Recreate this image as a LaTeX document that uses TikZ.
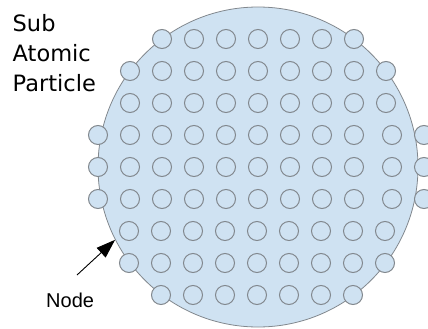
\documentclass[tikz,border=0pt]{standalone}
\usepackage{fontspec}
\setmainfont{DejaVu Sans}
\newfontfamily\arialfont{Liberation Sans}
\usetikzlibrary{arrows.meta}
\definecolor{fillblue}{RGB}{207,226,242}
\definecolor{edgegray}{RGB}{130,136,142}
\tikzset{
  body/.style={circle, draw=edgegray, fill=fillblue, line width=0.8pt, minimum size=320pt, inner sep=0pt},
  dot/.style={circle, draw=edgegray, fill=fillblue, line width=1pt, minimum size=19pt, inner sep=0pt},
  bigtext/.style={anchor=base west, inner sep=0pt, font=\fontsize{22.5}{29}\selectfont},
  smalltext/.style={anchor=base west, inner sep=0pt, font=\arialfont\fontsize{20}{24}\selectfont},
  pointer/.style={-{Triangle[length=19pt,width=13pt]}, line width=0.9pt, black}
}
\begin{document}
\begin{tikzpicture}[x=1pt,y=-1pt]
\useasboundingbox (0,0) rectangle (428,329);
\node[body] (big) at (258,167) {};
\foreach \r/\y/\xs in {
  1/39/{162,194,226,258,290,322,354},
  2/71/{130,162,194,226,258,290,322,354,386},
  3/103/{130,162,194,226,258,290,322,354,386},
  4/135/{98,130,162,194,226,258,290,322,354,392,424},
  5/167/{98,130,162,194,226,258,290,322,354,392,424},
  6/199/{98,130,162,194,226,258,290,322,354,392,424},
  7/231/{129,161,193,225,257,289,321,353,385},
  8/263/{129,161,193,225,257,289,321,353,385},
  9/295/{161,193,225,257,289,321,353}} {
  \foreach \x [count=\i] in \xs {
    \node[dot] (c-\r-\i) at (\x,\y) {};
  }
}
\node[bigtext] (t1) at (12.5,32) {Sub};
\node[bigtext] (t2) at (12.5,62) {Atomic};
\node[bigtext] (t3) at (12.5,91) {Particle};
\node[smalltext] (lbl) at (46,307) {Node};
\coordinate (tail) at (77,275);
\draw[pointer] (tail) -- (big.207.4);
\end{tikzpicture}
\end{document}
